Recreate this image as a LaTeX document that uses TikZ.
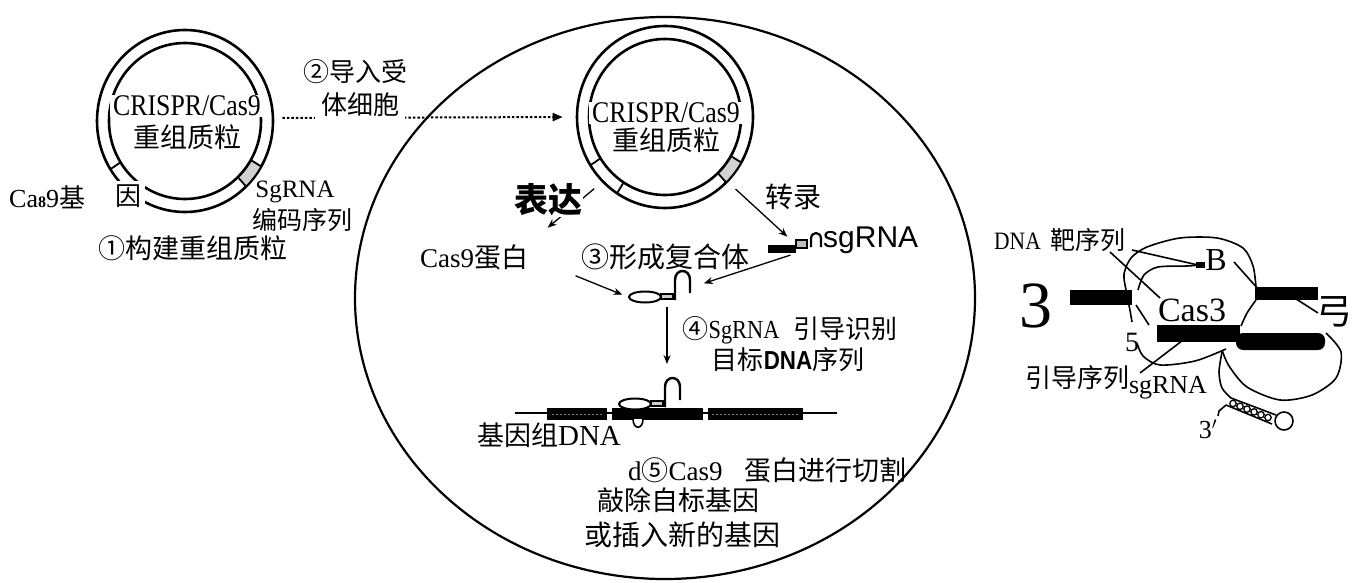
\documentclass[tikz,border=0pt]{standalone}
\usepackage{fontspec}
\setmainfont{Liberation Serif}
\setsansfont{Liberation Sans}
\newfontfamily\cjk{Noto Sans CJK SC}
\usetikzlibrary{arrows.meta, shapes.geometric}
\newcommand{\zh}[1]{{\cjk #1}}
\newcommand{\fsz}[1]{\fontsize{#1}{#1}\selectfont}
\newcommand{\narrow}[1]{\scalebox{0.86}[1]{#1}}
\tikzset{
  plring/.style={draw, ellipse, line width=2.6pt, minimum width=176, minimum height=182, inner sep=0},
  pltick/.style={line width=1.8pt},
  pltext/.style={fill=white, inner xsep=3pt, inner ysep=1pt, font=\fsz{30}},
  txt/.style={inner sep=1pt, font=\fsz{26}},
  zhtxt/.style={inner sep=1pt, font=\cjk\fsz{26}},
  arr/.style={-{Stealth[length=9pt, width=7pt]}, line width=1.3pt},
  dotarr/.style={-{Triangle[length=10pt, width=8pt]}, line width=2pt, dash pattern=on 2.5pt off 2pt},
  gene/.style={fill=black, inner sep=0, minimum height=12},
  blob/.style={line width=1.6pt},
  pics/cascx/.style={code={
    \node[ellipse, draw, fill=white, line width=2pt, minimum width=32, minimum height=11, inner sep=0] (-body) at (0,0) {};
    \draw[line width=1.4pt, fill=gray!40] (16,-3) rectangle (28,2);
    \draw[line width=2.4pt] (30,3) -- (30,-17) .. controls (30,-29) and (45,-29) .. (45,-17) -- (45,-4);
    \coordinate (-base) at (22,10);
    \coordinate (-top) at (37,-27);
  }},
}

\begin{document}
\begin{tikzpicture}[x=1pt, y=-1pt]
  \useasboundingbox (0,0) rectangle (1356,583);
  \fill[white] (0,0) rectangle (1356,583);

  % Cell
  \node[ellipse, draw, line width=2.2pt, minimum width=620, minimum height=562, inner sep=0] (cell) at (665,298) {};

  % Plasmids
  \node[plring] (pl1) at (185,121) {};
  \node[plring] (pl2) at (665,117) {};
  \foreach \p in {pl1, pl2} {
    \fill[gray!35] ([shift={(30:76 and 78)}]\p.center) arc[start angle=30, end angle=46, x radius=76, y radius=78]
      -- ([shift={(46:87 and 90)}]\p.center) arc[start angle=46, end angle=30, x radius=87, y radius=90] -- cycle;
    \draw[line width=2.6pt] (\p.center) ellipse [x radius=76, y radius=78];
    \foreach \a in {148, 123, 46, 30}
      \draw[pltick] ([shift={(\a:76 and 78)}]\p.center) -- ([shift={(\a:88 and 91)}]\p.center);
  }
  \node[pltext] (pl1a) at (187,106) {\narrow{CRISPR/Cas9}};
  \node[zhtxt, font=\cjk\fsz{27}] (pl1b) at (187,137) {重组质粒};
  \node[pltext] (pl2a) at (666,113) {\narrow{CRISPR/Cas9}};
  \node[zhtxt, font=\cjk\fsz{27}] (pl2b) at (666,140) {重组质粒};

  % Step 1 labels
  \node[txt, anchor=west] (cas9gene) at (8,197) {Ca\textbf{\fsz{16}8}9\zh{基}};
  \node[zhtxt, fill=white, inner sep=4pt] (yin) at (128,196) {因};
  \node[txt, font=\fsz{25}] (sgcode) at (295,192) {SgRNA};
  \node[zhtxt, font=\cjk\fsz{25}] (sgcodeb) at (302,220) {编码序列};
  \node[zhtxt, font=\cjk\fsz{27}] (step1) at (193,248) {①构建重组质粒};

  % Step 2: into the host cell
  \draw[dotarr, shorten <=8pt, shorten >=13pt] ([yshift=3pt]pl1.east) -- (pl2.west);
  \node[zhtxt, fill=white, inner xsep=6pt, inner ysep=7pt] (step2b) at (360,105) {体细胞};
  \node[zhtxt] (step2a) at (355,72) {②导入受};

  % Expression and transcription
  \node[txt, font=\fsz{27}] (cas) at (474,257) {Cas9\zh{蛋白}};
  \node[fill=black, inner sep=0, minimum width=28, minimum height=8] (sgbar) at (782,249) {};
  \draw[line width=1.2pt, fill=gray!50] (796,240) rectangle (807,248);
  \draw[line width=2.2pt] (811,247) -- (811,239) .. controls (811,231) and (821,231) .. (821,239) -- (821,247);
  \node[txt, anchor=west, font=\sffamily\fsz{30}] (sgtxt) at (822,240) {sgRNA};
  \draw[arr, shorten <=10pt, shorten >=24pt] (pl2.south west) -- (cas.north east);
  \draw[arr, shorten <=10pt, shorten >=12pt] (pl2.south east) -- (sgbar.north east);
  \node[zhtxt, fill=white, font=\cjk\fsz{34}\bfseries] (expr) at (548,200) {表达};
  \node[zhtxt, font=\cjk\fsz{28}] (trans) at (793,197) {转录};

  % Step 3: complex
  \node[zhtxt, font=\cjk\fsz{28}] (step3) at (665,257) {③形成复合体};
  \pic (cx1) at (645,297) {cascx};
  \draw[arr, shorten <=50pt, shorten >=6pt] (cas.east) -- (cx1-body.west);
  \draw[arr, shorten <=6pt, shorten >=44pt] (sgbar.south east) -- (cx1-body.east);

  % Step 4: target recognition
  \draw[line width=2pt] (515,413) -- (837,413);
  \node[gene, minimum width=60] (g1) at (577,414) {};
  \node[gene, minimum width=91] (g2) at (657,414) {};
  \node[gene, minimum width=95] (g3) at (755,414) {};
  \foreach \g in {g1, g3}
    \draw[gray, line width=0.6pt, dash pattern=on 2pt off 2pt] ([xshift=5pt]\g.west) -- ([xshift=-5pt]\g.east);
  \draw[line width=1.6pt, fill=white] (633,419) .. controls (633,430) and (643,430) .. (643,419);
  \pic (cx2) at (635,404) {cascx};
  \draw[arr, shorten >=13pt] (cx1-base) -- (cx1-base |- cx2-top);
  \node[txt] (step4a) at (790,330) {\zh{④}\narrow{SgRNA}\hspace{14pt}\zh{引导识别}};
  \node[txt] (step4b) at (788,360) {\zh{目标}{\sffamily\bfseries\narrow{DNA}}\zh{序列}};
  \node[txt, font=\fsz{27}] (genome) at (549,435) {\zh{基因组}{\fsz{29}DNA}};

  % Step 5: cutting
  \node[txt, anchor=west, font=\fsz{27}] (step5a) at (627,470) {d\zh{⑤}Cas9\hspace{22pt}\zh{蛋白进行切割}};
  \node[zhtxt, font=\cjk\fsz{27}] (step5b) at (678,500) {敲除自标基因};
  \node[zhtxt, font=\cjk\fsz{28}] (step5c) at (682,535) {或插入新的基因};

  % Cas3 protein bound to DNA
  \draw[blob] plot[smooth] coordinates {(1132,322) (1129,305) (1126,290) (1124,274) (1131,258) (1147,247) (1180,238) (1217,238) (1243,248) (1253,266) (1256,287)};
  \draw[blob] plot[smooth] coordinates {(1256,300) (1247,313) (1241,326)};
  \draw[blob] plot[smooth] coordinates {(1326,333) (1341,352) (1336,378) (1312,395) (1280,400) (1247,387) (1229,366) (1222,350)};
  \draw[blob] plot[smooth] coordinates {(1226,349) (1195,361) (1160,365) (1143,356) (1137,343)};
  \draw[blob] (1136,305) -- (1149,325);
  \draw[blob] plot[smooth] coordinates {(1138,290) (1144,275) (1158,267) (1187,266) (1200,265)};
  \draw[blob] (1132,250) -- (1198,265);
  \draw[blob] (1110,252) -- (1160,298);
  \draw[blob] (1234,262) -- (1259,290);
  \draw[blob] (1293,297) -- (1318,313);
  \draw[blob] (1140,373) -- (1187,337);
  \fill (1196,262) rectangle (1205,268);
  \fill (1070,290) rectangle (1132,305);
  \fill (1255,287) rectangle (1318,300);
  \fill (1157,325) rectangle (1240,342);
  \fill[rounded corners=7pt] (1236,333) rectangle (1325,350);

  % sgRNA stem loop
  \draw[blob] plot[smooth] coordinates {(1222,352) (1219,372) (1222,388) (1231,398)} -- (1276,415);
  \draw[blob] (1226,405) -- (1272,424);
  \draw[blob] (1284,421) circle[radius=9];
  \foreach \i in {0,...,5}
    \draw[line width=1.3pt] ({1233+7*\i},{403.5+2.8*\i}) circle[radius=3.2];
  \draw[blob] (1226,405) -- (1219,411) -- (1218,416);

  % Right labels
  \node[txt, anchor=west, font=\fsz{25}] (target) at (993,240) {\narrow{DNA}\hspace{10pt}\zh{靶序列}};
  \node[txt, font=\fsz{66}] (three) at (1036,306) {3};
  \node[txt, font=\fsz{32}] (bb) at (1216,260) {B};
  \node[txt, font=\fsz{34}] (cas3) at (1192,310) {Cas3};
  \node[zhtxt, font=\cjk\fsz{36}] (gong) at (1334,312) {弓};
  \node[txt, font=\fsz{28}] (five) at (1132,342) {5};
  \node[zhtxt] (guide) at (1077,378) {引导序列};
  \node[txt] (sgr) at (1168,388) {sgRNA};
  \node[txt] (tp) at (1208,429) {3$'$};
\end{tikzpicture}
\end{document}
